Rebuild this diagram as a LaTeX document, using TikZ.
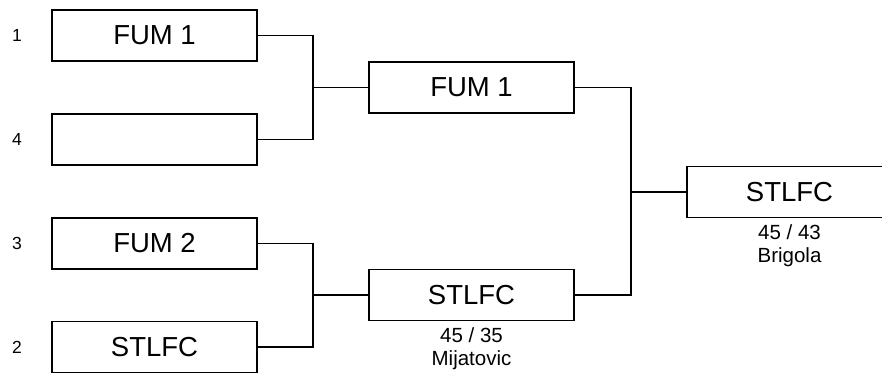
\documentclass[tikz,border=0pt]{standalone}
\usepackage{fontspec}
\setmainfont{Liberation Sans}
\begin{document}
\begin{tikzpicture}[x=1pt,y=-1pt,
  teambox/.style={draw=black,line width=1.6pt,minimum width=205pt,minimum height=51pt,inner sep=0pt,font=\fontsize{27.5}{30}\selectfont},
  seed/.style={inner sep=0pt,font=\fontsize{17.5}{20}\selectfont},
  score/.style={inner sep=0pt,anchor=base,font=\fontsize{20.5}{23}\selectfont},
  conn/.style={draw=black,line width=1.6pt}]
\useasboundingbox (0,0) rectangle (882,373);
% round 1
\node[teambox] (b1) at (154.5,35.5) {FUM 1};
\node[teambox] (b4) at (154.5,139.5) {};
\node[teambox] (b3) at (154.5,243.5) {FUM 2};
\node[teambox] (b2) at (154.5,347) {STLFC};
\node[seed] (l1) at (17,35.5) {1};
\node[seed] (l4) at (17,139.5) {4};
\node[seed] (l3) at (17,243.5) {3};
\node[seed] (l2) at (17,347) {2};
% round 2
\node[teambox] (ra) at (471.5,87.5) {FUM 1};
\node[teambox] (rb) at (471.5,295) {STLFC};
\node[score] (sb1) at (471.5,342.5) {45 / 35};
\node[score] (sb2) at (471.5,365.5) {Mijatovic};
% final
\node[teambox] (fin) at (789.5,192) {STLFC};
\node[score] (sf1) at (789.5,239.5) {45 / 43};
\node[score] (sf2) at (789.5,262) {Brigola};
% connectors
\coordinate (j1) at (313,87.5);
\coordinate (j2) at (313,295);
\coordinate (j3) at (631,192);
\draw[conn] (b1.east) -| (j1) |- (b4.east);
\draw[conn] (j1) -- (ra.west);
\draw[conn] (b3.east) -| (j2) |- (b2.east);
\draw[conn] (j2) -- (rb.west);
\draw[conn] (ra.east) -| (j3) |- (rb.east);
\draw[conn] (j3) -- (fin.west);
\end{tikzpicture}
\end{document}
